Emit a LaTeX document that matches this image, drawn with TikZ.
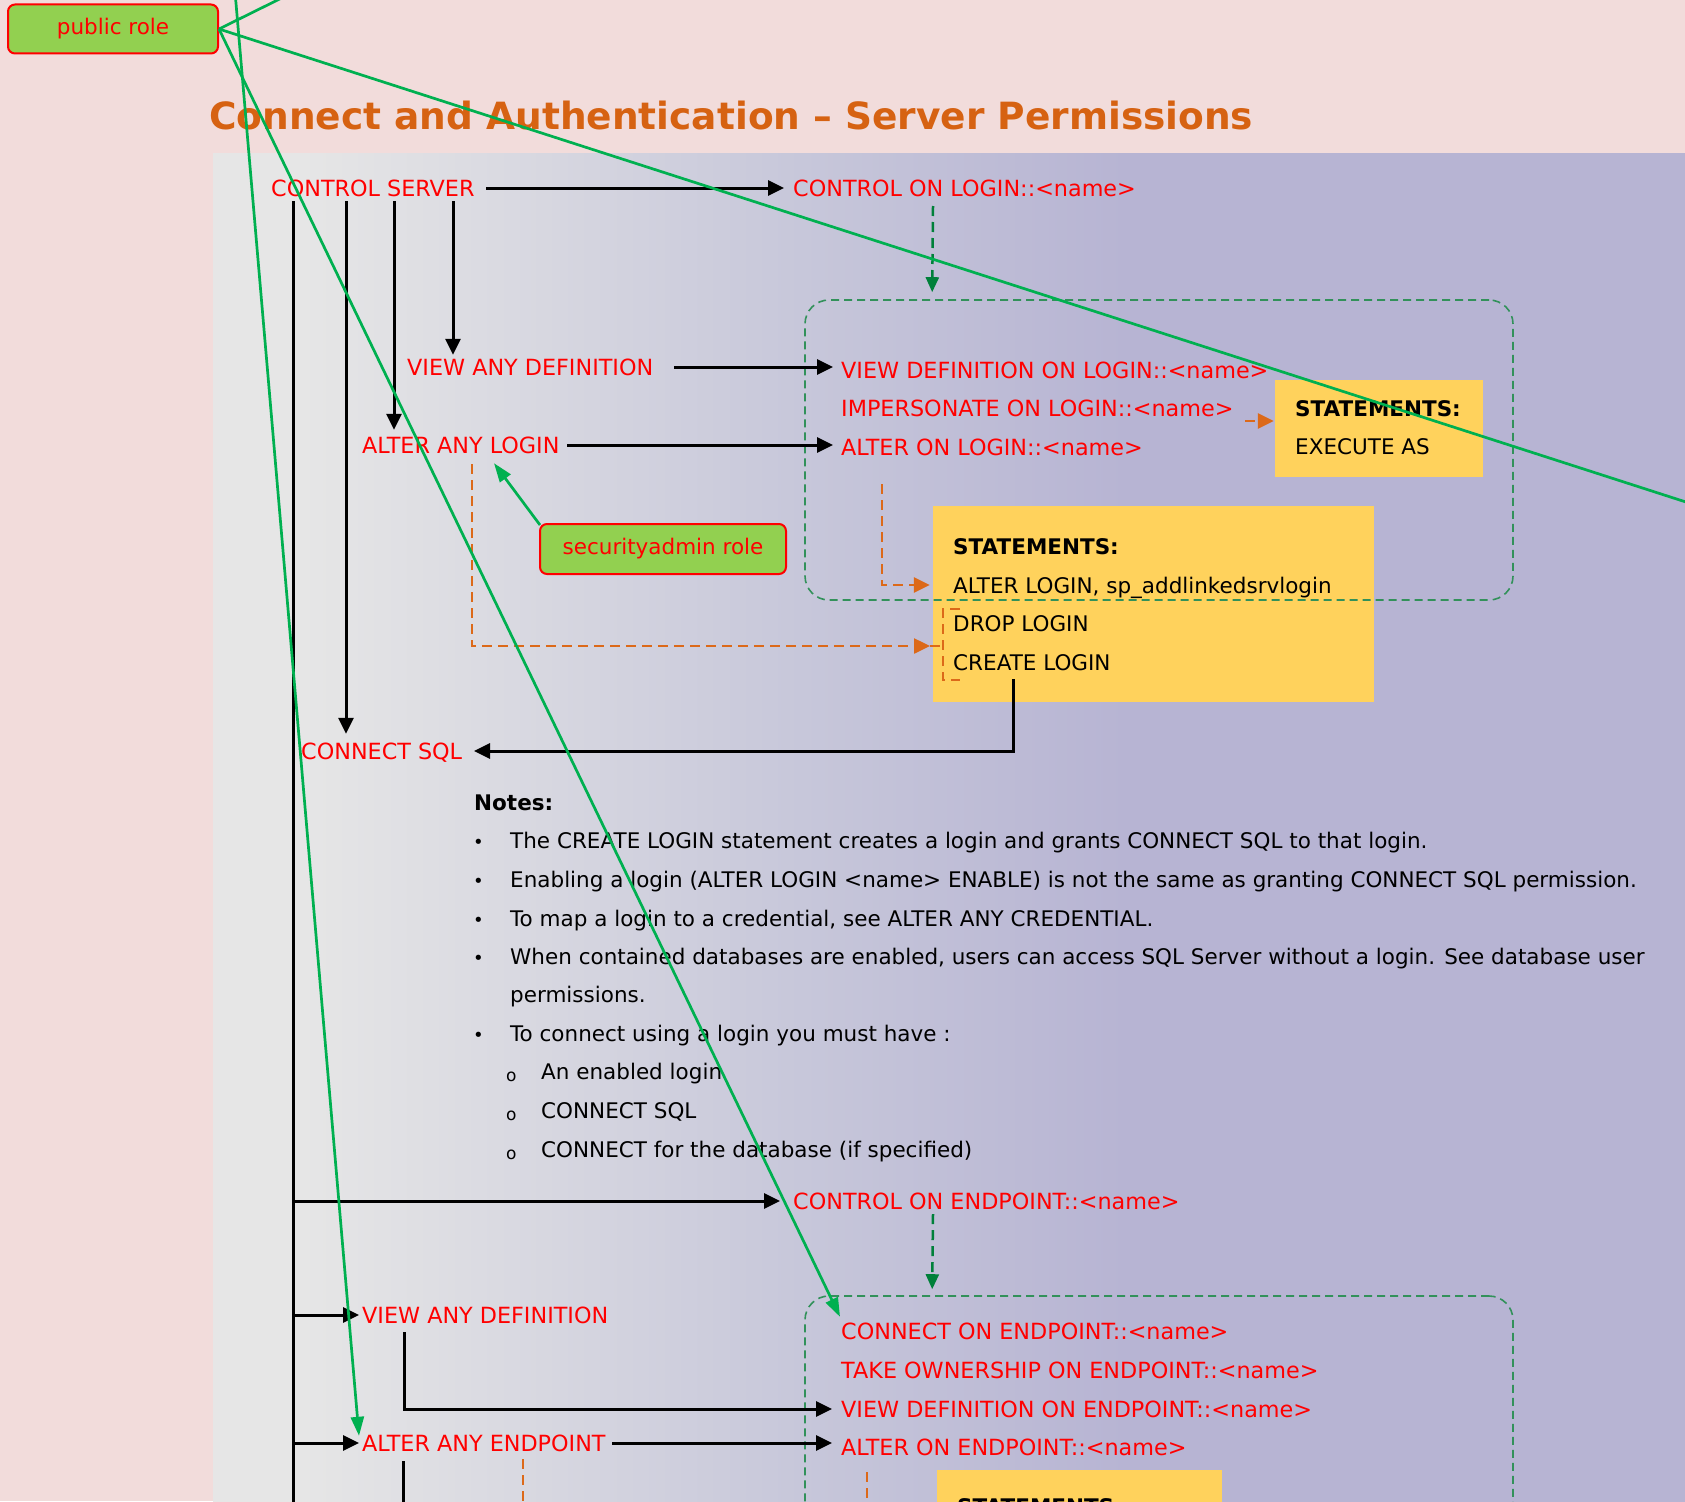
\documentclass[tikz,border=0pt]{standalone}
\usepackage{fontspec}
\setmainfont{DejaVu Sans}
\usetikzlibrary{arrows.meta}
\definecolor{pinkbg}{RGB}{242,220,219}
\definecolor{panA}{RGB}{230,230,230}
\definecolor{panB}{RGB}{199,199,218}
\definecolor{panC}{RGB}{183,180,211}
\definecolor{rolegreen}{RGB}{146,208,80}
\definecolor{titleorange}{RGB}{214,98,18}
\definecolor{dashorange}{RGB}{220,105,25}
\definecolor{linegreen}{RGB}{0,176,80}
\definecolor{arrowgreen}{RGB}{0,128,58}
\definecolor{boxgreen}{RGB}{50,145,90}
\definecolor{stmtyellow}{RGB}{255,210,92}
\pgfdeclarehorizontalshading{panelshade}{100bp}{color(0bp)=(panA); color(28bp)=(panA); color(45bp)=(panB); color(56bp)=(panC); color(100bp)=(panC)}
\begin{document}
\begin{tikzpicture}[x=1pt,y=-1pt,
  every node/.style={inner sep=0pt, font=\fontsize{21.5}{26}\selectfont},
  perm/.style={text=red, anchor=west, text height=16pt, text depth=0pt, font=\fontsize{22.3}{26}\selectfont},
  note/.style={text=black, anchor=west, text height=16pt, text depth=0pt},
  stmthead/.style={note, font=\fontsize{21.5}{26}\selectfont\bfseries},
  stmt/.style={fill=stmtyellow, draw=none},
  role/.style={draw=red, line width=2pt, fill=rolegreen, rounded corners=7pt, text=red},
  dbox/.style={draw=boxgreen, line width=1.6pt, dash pattern=on 8pt off 5pt, rounded corners=24pt},
  bline/.style={black, line width=3pt},
  barrow/.style={bline, -{Triangle[length=16pt,width=15pt]}},
  gdarrow/.style={arrowgreen, line width=2.5pt, dash pattern=on 10pt off 6pt, -{Triangle[length=15pt,width=13pt]}},
  odash/.style={dashorange, line width=2.5pt, dash pattern=on 10pt off 6pt},
  oarrow/.style={odash, -{Triangle[length=16pt,width=15pt]}},
  gline/.style={linegreen, line width=2.7pt},
  garrow/.style={gline, -{Triangle[length=19pt,width=13pt]}}
]
\useasboundingbox (0,0) rectangle (1685,1501);
\fill[pinkbg] (0,0) rectangle (1685,1501);
\shade[shading=panelshade] (213,153) rectangle (1685,1501);

% title
\node[anchor=base west, text=titleorange, font=\fontsize{37.5}{44}\selectfont\bfseries] (title) at (209,129) {Connect and Authentication – Server Permissions};

% yellow statement boxes
\node[stmt, minimum width=208pt, minimum height=97pt] (st1) at (1379,428) {};
\node[stmt, minimum width=441pt, minimum height=196pt] (st2) at (1153.5,604) {};
\node[stmt, minimum width=285pt, minimum height=150pt] (st3) at (1079.5,1545) {};

% dashed group boxes
\node[dbox, minimum width=708pt, minimum height=300pt] (b1) at (1159,450) {};
\node[dbox, minimum width=708pt, minimum height=408pt] (b2) at (1159,1500) {};

% statement texts
\node[stmthead] (s1h) at (1295,408) {STATEMENTS:};
\node[note] (s1a) at (1295,446) {EXECUTE AS};
\node[stmthead] (s2h) at (953,546) {STATEMENTS:};
\node[note] (s2a) at (953,585) {ALTER LOGIN, sp\_addlinkedsrvlogin};
\node[note] (s2b) at (953,623) {DROP LOGIN};
\node[note] (s2c) at (953,662) {CREATE LOGIN};
\node[stmthead] (s3h) at (957,1506) {STATEMENTS:};

% roles
\node[role, minimum width=210pt, minimum height=49pt] (pr) at (113,29) {public role};
\node[role, minimum width=246pt, minimum height=50pt] (sar) at (663,549) {securityadmin role};

% permissions (login part)
\node[perm] (cs) at (271,188) {CONTROL SERVER};
\node[perm] (col) at (793,188) {CONTROL ON LOGIN::<name>};
\node[perm] (vad) at (407,367) {VIEW ANY DEFINITION};
\node[perm] (aal) at (362,445) {ALTER ANY LOGIN};
\node[perm] (vdl) at (841,370) {VIEW DEFINITION ON LOGIN::<name>};
\node[perm] (iml) at (841,408) {IMPERSONATE ON LOGIN::<name>};
\node[perm] (aol) at (841,447) {ALTER ON LOGIN::<name>};
\node[perm] (csql) at (301,751) {CONNECT SQL};

% notes
\node[stmthead] (notes) at (474,802) {Notes:};
\node[note, font=\fontsize{18}{20}\selectfont] (bu1) at (473,840) {•};
\node[note, font=\fontsize{18}{20}\selectfont] (bu2) at (473,879) {•};
\node[note, font=\fontsize{18}{20}\selectfont] (bu3) at (473,918) {•};
\node[note, font=\fontsize{18}{20}\selectfont] (bu4) at (473,956) {•};
\node[note, font=\fontsize{18}{20}\selectfont] (bu5) at (473,1033) {•};
\node[note] (n1) at (510,840) {The CREATE LOGIN statement creates a login and grants CONNECT SQL to that login.};
\node[note] (n2) at (510,879) {Enabling a login (ALTER LOGIN <name> ENABLE) is not the same as granting CONNECT SQL permission.};
\node[note] (n3) at (510,918) {To map a login to a credential, see ALTER ANY CREDENTIAL.};
\node[note] (n4) at (510,956) {When contained databases are enabled, users can access SQL Server without a login. See database user};
\node[note] (n4b) at (510,994) {permissions.};
\node[note] (n5) at (510,1033) {To connect using a login you must have :};
\node[note, font=\fontsize{17}{18}\selectfont] (o1) at (506,1073) {o};
\node[note, font=\fontsize{17}{18}\selectfont] (o2) at (506,1112) {o};
\node[note, font=\fontsize{17}{18}\selectfont] (o3) at (506,1151) {o};
\node[note] (m1) at (541,1071) {An enabled login};
\node[note] (m2) at (541,1110) {CONNECT SQL};
\node[note] (m3) at (541,1149) {CONNECT for the database (if specified)};

% permissions (endpoint part)
\node[perm] (coe) at (793,1201) {CONTROL ON ENDPOINT::<name>};
\node[perm] (vad2) at (362,1315) {VIEW ANY DEFINITION};
\node[perm] (aae) at (362,1443) {ALTER ANY ENDPOINT};
\node[perm] (cep) at (841,1331) {CONNECT ON ENDPOINT::<name>};
\node[perm] (toe) at (841,1370) {TAKE OWNERSHIP ON ENDPOINT::<name>};
\node[perm] (vde) at (841,1409) {VIEW DEFINITION ON ENDPOINT::<name>};
\node[perm] (aoe) at (841,1447) {ALTER ON ENDPOINT::<name>};

% coordinates
\coordinate (trunkend) at (293,1520);
\coordinate (brk) at (943,646);
\coordinate (offA) at (308,-15);
\coordinate (offB) at (1720,513);
\coordinate (offC) at (234,-20);

% black connectors
\draw[bline] ([xshift=22pt,yshift=-13pt]cs.west) -- (trunkend);
\draw[barrow] ([xshift=75pt,yshift=-13pt]cs.west) -- ([xshift=45pt,yshift=9pt]csql.north west);
\draw[barrow] ([xshift=123pt,yshift=-13pt]cs.west) -- ([xshift=32pt,yshift=7pt]aal.north west);
\draw[barrow] ([xshift=182pt,yshift=-13pt]cs.west) -- ([xshift=46pt,yshift=4pt]vad.north west);
\draw[barrow] ([xshift=215pt]cs.west) -- ([xshift=-9pt]col.west);
\draw[barrow] ([xshift=267pt]vad.west) -- ([xshift=-8pt]vad.west -| vdl.west);
\draw[barrow] ([xshift=205pt]aal.west) -- ([xshift=-8pt]aal.west -| aol.west);
\draw[barrow] ([xshift=60pt,yshift=-9pt]s2c.south west) |- ([xshift=173pt]csql.west);

\draw[barrow] (coe.west -| trunkend) -- ([xshift=-13pt]coe.west);
\draw[barrow] (vad2.west -| trunkend) -- ([xshift=-3pt]vad2.west);
\draw[barrow] (aae.west -| trunkend) -- ([xshift=-3pt]aae.west);
\draw[barrow] ([xshift=42pt,yshift=-9pt]vad2.south west) |- ([xshift=-9pt]vde.west);
\draw[barrow] ([xshift=250pt]aae.west) -- ([xshift=-9pt]aae.west -| aoe.west);
\draw[bline] ([xshift=41pt,yshift=-10pt]aae.south west) -- ++(0,80);

% green dashed connectors
\draw[gdarrow] ([xshift=140pt,yshift=-18pt]col.west) -- ([xshift=128pt,yshift=7pt]b1.north west);
\draw[gdarrow] ([xshift=140pt,yshift=-13pt]coe.west) -- ([xshift=128pt,yshift=6pt]b2.north west);

% orange dashed connectors
\draw[oarrow] ([xshift=404pt,yshift=-13pt]iml.west) -- ([xshift=-1pt,yshift=-13pt]iml.west -| st1.west);
\draw[oarrow] ([xshift=41pt,yshift=-37pt]aol.west) |- ([xshift=-3pt]s2a.west -| st2.west);
\draw[oarrow] ([xshift=110pt,yshift=-19pt]aal.west) |- ([xshift=-13pt]brk);
\draw[odash] ([xshift=-13pt]brk) -- (brk);
\draw[odash] (960,609) -- (943,609) -- (943,680) -- (960,680);
\draw[odash] ([xshift=161pt,yshift=-8pt]aae.south west) -- ++(0,80);
\draw[odash] ([xshift=26pt,yshift=-17pt]aoe.south west) -- ++(0,80);

% green role connectors
\draw[garrow] ([xshift=1pt,yshift=-2pt]sar.north west) -- ([xshift=132pt,yshift=-10pt]aal.south west);
\draw[gline] (pr.east) -- (offA);
\draw[gline] (pr.east) -- (offB);
\draw[garrow] (pr.east) -- ([xshift=-1pt,yshift=6pt]cep.north west);
\draw[garrow] (offC) -- ([xshift=-3pt,yshift=-1pt]aae.north west);
\end{tikzpicture}
\end{document}
